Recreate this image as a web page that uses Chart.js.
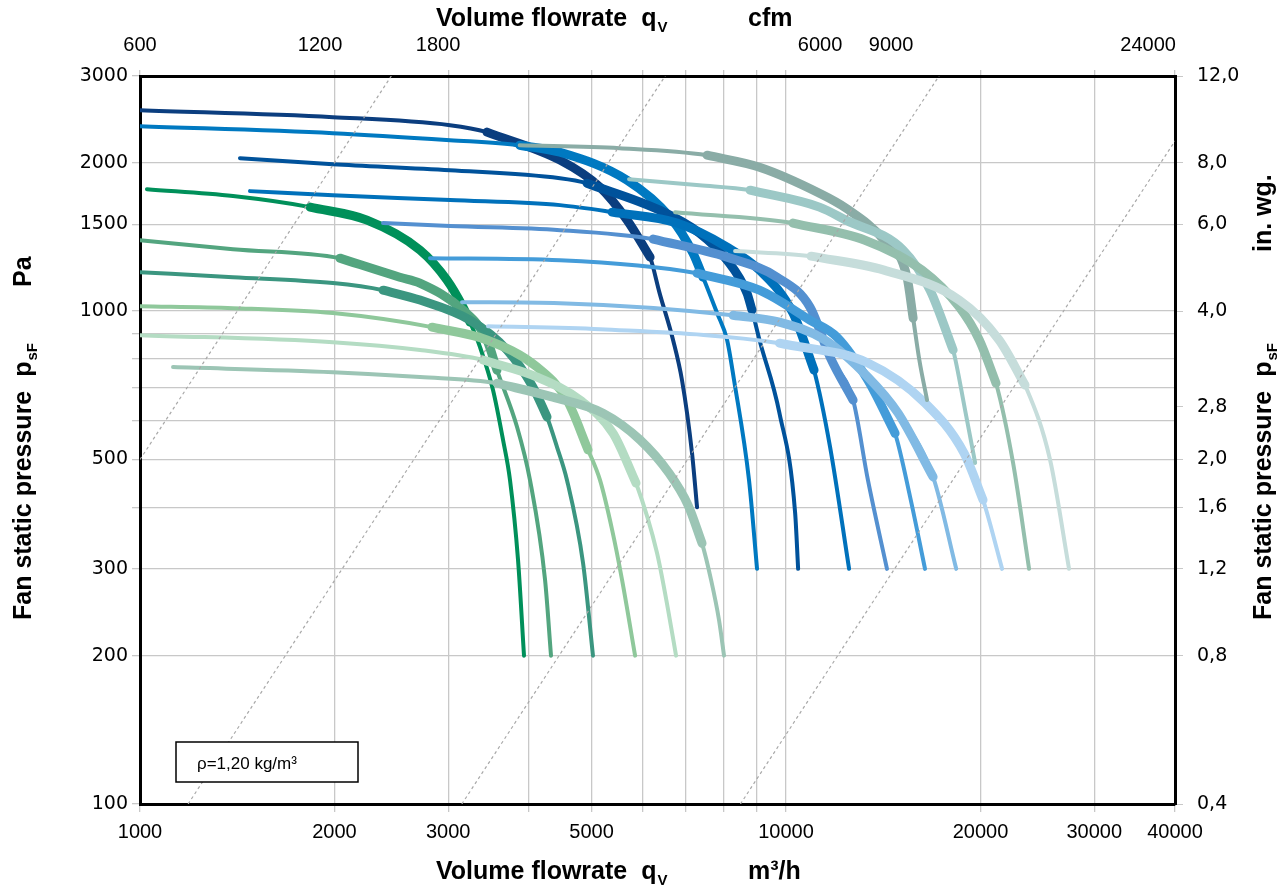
<!DOCTYPE html>
<html>
<head>
<meta charset="utf-8">
<script src="https://cdn.jsdelivr.net/npm/chart.js@4.4.0/dist/chart.umd.min.js"></script>
<style>
  html, body { margin: 0; padding: 0; background: #fff; }
  #wrap { width: 1280px; height: 889px; }
</style>
</head>
<body>
<div id="wrap"><canvas id="fanChart"></canvas></div>
<script>
// flow in m3/h, static pressure in Pa
const flowG1 = [1025, 1393, 1833, 2246, 2713, 2987, 3162, 3242, 3360, 3519, 3647, 3739, 3847, 3930];
const pressG1 = [1768, 1712, 1626, 1530, 1330, 1156, 1019, 950, 845, 692, 548, 454, 313, 200];
const flowG2 = [1000, 1393, 2039, 2524, 2711, 3162, 3444, 3569, 3834, 4015, 4236, 4327];
const pressG2 = [1393, 1336, 1281, 1172, 1140, 1005, 874, 759, 582, 454, 285, 200];
const flowG3 = [1000, 1393, 1989, 2378, 2713, 3242, 3699, 4058, 4266, 4421, 4581, 4851, 5025];
const pressG3 = [1200, 1172, 1140, 1103, 1053, 959, 834, 701, 610, 530, 454, 308, 200];
const flowG4 = [1000, 1393, 1989, 2831, 3444, 4117, 4581, 4938, 5153, 5380, 5574, 5839];
const pressG4 = [1023, 1014, 991, 928, 874, 770, 660, 523, 454, 360, 285, 200];
const flowG5 = [1000, 1989, 2713, 3396, 4117, 4799, 5399, 5859, 6314, 6567, 6757];
const pressG5 = [894, 865, 834, 796, 735, 660, 565, 448, 323, 248, 200];
const flowG6 = [1125, 1989, 2713, 3569, 4358, 5208, 5943, 6591, 7052, 7413, 7655, 7876, 8017];
const pressG6 = [770, 752, 735, 714, 669, 621, 548, 469, 404, 338, 285, 236, 200];

const flowB1 = [1000, 1989, 3019, 3444, 4469, 5153, 5675, 6160, 6372, 6685, 6902, 7153, 7282];
const pressB1 = [2556, 2475, 2384, 2308, 2025, 1784, 1530, 1287, 1088, 874, 724, 515, 400];
const flowB2 = [1000, 1989, 3019, 3870, 4469, 5675, 6613, 7178, 7439, 7821, 8105, 8309, 8764, 9018];
const pressB2 = [2373, 2297, 2223, 2171, 2101, 1844, 1551, 1311, 1172, 991, 874, 724, 454, 300];
const flowB3 = [1428, 1989, 3019, 4469, 4920, 6372, 7347, 8105, 8700, 8857, 9097, 9768, 10330, 10440];
const pressB3 = [2043, 1987, 1932, 1861, 1818, 1603, 1440, 1269, 1088, 1005, 874, 621, 389, 300];
const flowB4 = [1480, 1989, 3019, 4469, 5380, 6781, 8105, 9097, 10250, 11050, 11700, 12520];
const pressB4 = [1752, 1719, 1680, 1641, 1588, 1509, 1349, 1211, 991, 759, 530, 300];
const flowB5 = [2378, 3019, 4469, 6226, 8105, 9685, 10890, 11700, 12700, 13390, 14330];
const pressB5 = [1509, 1488, 1460, 1400, 1287, 1172, 1019, 807, 660, 454, 300];
const flowB6 = [2811, 4469, 7282, 9097, 10890, 11990, 13390, 14750, 15560, 16410];
const pressB6 = [1281, 1269, 1194, 1103, 959, 886, 724, 565, 420, 300];
const flowB7 = [3151, 4469, 8279, 9768, 11490, 13390, 14910, 16890, 18340];
const pressB7 = [1043, 1038, 981, 950, 874, 735, 621, 461, 300];
const flowB8 = [3457, 5153, 9768, 13390, 16410, 18860, 20180, 21600];
const pressB8 = [932, 919, 861, 785, 651, 515, 414, 300];

const flowT1 = [3870, 5526, 7545, 9097, 11264, 12380, 14180, 15390, 15730, 16082, 16530];
const pressT1 = [2171, 2141, 2072, 1959, 1735, 1618, 1393, 1172, 968, 796, 660];
const flowT2 = [5715, 7347, 8796, 11264, 12380, 15180, 16710, 18140, 18930, 19620];
const pressT2 = [1852, 1801, 1760, 1626, 1530, 1330, 1103, 834, 630, 492];
const flowT3 = [6733, 10250, 13250, 16240, 18544, 19913, 21140, 22460, 23780];
const pressT3 = [1588, 1509, 1393, 1211, 1019, 874, 714, 492, 300];
const flowT4 = [8340, 10930, 14180, 18544, 21370, 23440, 25630, 27420];
const pressT4 = [1324, 1293, 1211, 1053, 874, 708, 499, 300];

// index range of the thick (recommended) part of each curve
const bestRange = {
  T4: [1, 5], T3: [1, 6], T2: [2, 7], T1: [2, 8],
  B8: [2, 6], B7: [2, 7], B6: [2, 7], B5: [3, 8], B4: [4, 9], B3: [4, 9], B2: [3, 8], B1: [3, 7],
  G6: [3, 9], G5: [3, 7], G4: [3, 7], G3: [3, 8], G2: [2, 7], G1: [2, 7]
};

// system lines p ~ q^2, end points
const systemFlow = [[1000, 2449], [1187, 6500], [3149, 17250], [8500, 40000]];
const systemPress = [[500, 3000], [100, 3000], [100, 3000], [100, 2214]];

// axes
const flowGrid = [1000, 2000, 3000, 4000, 5000, 6000, 7000, 8000, 9000, 10000, 20000, 30000, 40000];
const flowLabels = [1000, 2000, 3000, 5000, 10000, 20000, 30000, 40000];
const pressGrid = [100, 200, 300, 400, 500, 600, 700, 800, 900, 1000, 1500, 2000, 3000];
const pressLabels = [100, 200, 300, 500, 1000, 1500, 2000, 3000];
const cfmTickFlow = [1000, 1900, 2893, 11288, 14541, 36347];
const cfmTickLabels = ['600', '1200', '1800', '6000', '9000', '24000'];
const inwgTickPa = [100, 200, 300, 400, 500, 640, 1000, 1500, 2000, 3000];
const inwgTickLabels = ['0,4', '0,8', '1,2', '1,6', '2,0', '2,8', '4,0', '6,0', '8,0', '12,0'];

const curves = [
  ['T4', flowT4, pressT4, '#c6dddb'],
  ['T3', flowT3, pressT3, '#94bfad'],
  ['T2', flowT2, pressT2, '#9cc8c6'],
  ['T1', flowT1, pressT1, '#8aaca6'],
  ['B8', flowB8, pressB8, '#afd4f2'],
  ['B7', flowB7, pressB7, '#81bae4'],
  ['B6', flowB6, pressB6, '#449cd9'],
  ['B5', flowB5, pressB5, '#5490d0'],
  ['B4', flowB4, pressB4, '#0071bb'],
  ['B3', flowB3, pressB3, '#00529b'],
  ['B2', flowB2, pressB2, '#0079c1'],
  ['B1', flowB1, pressB1, '#0b3e7f'],
  ['G6', flowG6, pressG6, '#9cc5b5'],
  ['G5', flowG5, pressG5, '#b4dcc3'],
  ['G4', flowG4, pressG4, '#8fc89b'],
  ['G3', flowG3, pressG3, '#3b9680'],
  ['G2', flowG2, pressG2, '#53a57f'],
  ['G1', flowG1, pressG1, '#00905a']
];

const datasets = [];
systemFlow.forEach(function(f, i) {
  datasets.push({
    data: f.map(function(q, j) { return { x: q, y: systemPress[i][j] }; }),
    borderColor: '#a8a8a8', borderWidth: 1.2, borderDash: [3, 3],
    pointRadius: 0, tension: 0
  });
});
curves.forEach(function(c) {
  const pts = c[1].map(function(q, j) { return { x: q, y: c[2][j] }; });
  const r = bestRange[c[0]];
  datasets.push({
    label: c[0], data: pts, borderColor: c[3], borderWidth: 4,
    pointRadius: 0, cubicInterpolationMode: 'monotone', borderCapStyle: 'round'
  });
  datasets.push({
    label: c[0] + ' best', data: pts.slice(r[0], r[1] + 1), borderColor: c[3], borderWidth: 9,
    pointRadius: 0, cubicInterpolationMode: 'monotone', borderCapStyle: 'round', borderJoinStyle: 'round'
  });
});

const numFont = '"Liberation Sans", Arial, sans-serif';

function drawSub(ctx, main, sub, x, y) {
  ctx.font = 'bold 25px ' + numFont;
  ctx.fillText(main, x, y);
  const w = ctx.measureText(main).width;
  ctx.font = 'bold 15px ' + numFont;
  ctx.fillText(sub, x + w + 1, y + 6);
}

// axis titles with subscripts + density note
const titlesPlugin = {
  id: 'titles',
  afterDraw: function(chart) {
    const ctx = chart.ctx;
    ctx.save();
    ctx.fillStyle = '#000';
    ctx.textBaseline = 'alphabetic';
    ctx.textAlign = 'left';
    drawSub(ctx, 'Volume flowrate  q', 'V', 436, 879);
    ctx.font = 'bold 25px ' + numFont;
    ctx.fillText('m³/h', 748, 879);
    drawSub(ctx, 'Volume flowrate  q', 'V', 436, 26);
    ctx.font = 'bold 25px ' + numFont;
    ctx.fillText('cfm', 748, 26);

    ctx.save();
    ctx.translate(31, 620);
    ctx.rotate(-Math.PI / 2);
    drawSub(ctx, 'Fan static pressure  p', 'sF', 0, 0);
    ctx.restore();
    ctx.save();
    ctx.translate(31, 287);
    ctx.rotate(-Math.PI / 2);
    ctx.font = 'bold 25px ' + numFont;
    ctx.fillText('Pa', 0, 0);
    ctx.restore();

    ctx.save();
    ctx.translate(1271, 620);
    ctx.rotate(-Math.PI / 2);
    drawSub(ctx, 'Fan static pressure  p', 'sF', 0, 0);
    ctx.restore();
    ctx.save();
    ctx.translate(1271, 252);
    ctx.rotate(-Math.PI / 2);
    ctx.font = 'bold 25px ' + numFont;
    ctx.fillText('in. wg.', 0, 0);
    ctx.restore();

    ctx.fillStyle = '#fff';
    ctx.fillRect(176, 742, 182, 40);
    ctx.strokeStyle = '#000';
    ctx.lineWidth = 1.5;
    ctx.strokeRect(176, 742, 182, 40);
    ctx.fillStyle = '#000';
    ctx.font = '17px ' + numFont;
    ctx.fillText('ρ=1,20 kg/m³', 197, 769);
    ctx.restore();
  }
};

function setTicks(values) {
  return function(scale) {
    scale.ticks = values.map(function(v) { return { value: v }; });
  };
}

// top axis: short marks at the flow grid, cfm labels at their own spots
const topTickValues = flowGrid.concat(cfmTickFlow)
  .filter(function(v, i, a) { return a.indexOf(v) === i; })
  .sort(function(a, b) { return a - b; });

const ctx = document.getElementById('fanChart').getContext('2d');
new Chart(ctx, {
  type: 'line',
  data: { datasets: datasets },
  plugins: [titlesPlugin],
  options: {
    responsive: true,
    maintainAspectRatio: false,
    animation: false,
    layout: { padding: 0 },
    plugins: { legend: { display: false }, tooltip: { enabled: false } },
    scales: {
      x: {
        type: 'logarithmic', position: 'bottom', min: 1000, max: 40000,
        afterBuildTicks: setTicks(flowGrid),
        afterFit: function(s) { s.height = 85; },
        ticks: {
          autoSkip: false, maxRotation: 0, minRotation: 0, padding: 8, color: '#000',
          font: { family: numFont, size: 20 },
          callback: function(v) { return flowLabels.includes(v) ? String(v) : ''; }
        },
        grid: { color: '#c8c8c8', lineWidth: 1.3, tickLength: 8 },
        border: { color: '#000', width: 3 }
      },
      x2: {
        type: 'logarithmic', position: 'top', min: 1000, max: 40000,
        afterBuildTicks: setTicks(topTickValues),
        afterFit: function(s) { s.height = 76; },
        ticks: {
          autoSkip: false, maxRotation: 0, minRotation: 0, padding: 13, color: '#000',
          font: { family: numFont, size: 20 },
          callback: function(v) {
            const k = cfmTickFlow.indexOf(v);
            return k >= 0 ? cfmTickLabels[k] : '';
          }
        },
        grid: {
          drawOnChartArea: false, tickLength: 6, lineWidth: 1.3,
          color: function(c) {
            return c.tick && flowGrid.includes(c.tick.value) ? '#c8c8c8' : 'rgba(0,0,0,0)';
          }
        },
        border: { color: '#000', width: 3 }
      },
      y: {
        type: 'logarithmic', position: 'left', min: 100, max: 3000,
        afterBuildTicks: setTicks(pressGrid),
        afterFit: function(s) { s.width = 140; },
        ticks: {
          autoSkip: false, padding: 4, color: '#000',
          font: { family: '"DejaVu Sans", sans-serif', size: 19 },
          callback: function(v) { return pressLabels.includes(v) ? String(v) : ''; }
        },
        grid: { color: '#c8c8c8', lineWidth: 1.3, tickLength: 8 },
        border: { color: '#000', width: 3 }
      },
      y2: {
        type: 'logarithmic', position: 'right', min: 100, max: 3000,
        afterBuildTicks: setTicks(inwgTickPa),
        afterFit: function(s) { s.width = 105; },
        ticks: {
          autoSkip: false, padding: 14, color: '#000',
          font: { family: '"DejaVu Sans", sans-serif', size: 19 },
          callback: function(v, i) { return inwgTickLabels[i]; }
        },
        grid: { drawOnChartArea: false, color: '#c8c8c8', tickLength: 8 },
        border: { color: '#000', width: 3 }
      }
    }
  }
});
</script>
</body>
</html>
